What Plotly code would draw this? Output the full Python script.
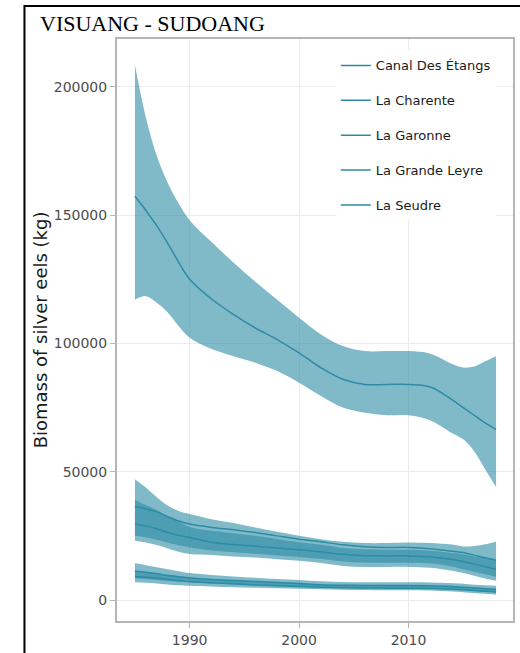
import plotly.graph_objects as go

# Years at which each smoothed estimate is given
YEARS = [1985, 1986, 1987, 1988, 1989, 1990, 1992, 1994, 1996, 1998, 2000,
         2002, 2004, 2006, 2008, 2010, 2012, 2014, 2015, 2016, 2017, 2018]

# Biomass of silver eels (kg): mean with lower / upper bounds per river
CANAL_MEAN = [11200, 10800, 10200, 9600, 9100, 8600, 8000, 7600, 7200, 6800, 6400,
              6000, 5800, 5700, 5700, 5700, 5600, 5300, 5000, 4700, 4400, 4100]
CANAL_LOW = [8500, 8200, 7800, 7400, 7100, 6800, 6400, 6100, 5800, 5500, 5200,
             4900, 4700, 4600, 4600, 4600, 4500, 4200, 3900, 3600, 3300, 3000]
CANAL_HIGH = [14300, 13600, 12800, 12000, 11200, 10500, 9800, 9200, 8700, 8200, 7800,
              7300, 7000, 6900, 6900, 6900, 6800, 6500, 6300, 6000, 5800, 5600]

CHARENTE_MEAN = [36400, 35500, 34400, 32500, 30800, 29600, 28300, 27400, 26300, 25000, 23700,
                 22700, 21500, 20800, 20500, 20500, 20000, 19000, 18500, 17500, 16500, 15500]
CHARENTE_LOW = [23100, 22400, 21400, 20100, 18800, 17900, 17500, 17000, 16600, 15900, 15300,
                14400, 13300, 12900, 12900, 12900, 12600, 11400, 10500, 9500, 8400, 7500]
CHARENTE_HIGH = [47100, 43800, 40000, 36700, 34700, 33500, 31500, 30000, 28300, 26600, 25000,
                 23700, 22700, 22200, 22200, 22400, 22200, 21600, 20900, 21100, 21700, 22700]

GARONNE_MEAN = [157300, 151800, 145800, 139000, 131600, 125000, 117300, 111300, 106000, 101500, 96300,
                90500, 86000, 84000, 84000, 84000, 83000, 78000, 75000, 72000, 69000, 66500]
GARONNE_LOW = [117000, 118400, 115800, 112000, 106700, 102200, 97800, 95000, 92500, 89200, 84700,
               79500, 75000, 73000, 72000, 72000, 70000, 65000, 62600, 58000, 51000, 44000]
GARONNE_HIGH = [208500, 188000, 173000, 162500, 154500, 148000, 139500, 131500, 124000, 117000, 110000,
                103500, 99000, 97000, 97000, 97000, 96000, 92000, 90600, 91000, 93000, 95000]

LEYRE_MEAN = [9200, 8900, 8500, 8000, 7600, 7200, 6700, 6300, 5900, 5600, 5300,
              5000, 4800, 4700, 4600, 4600, 4500, 4200, 4000, 3700, 3400, 3100]
LEYRE_LOW = [6900, 6700, 6400, 6100, 5800, 5600, 5300, 5000, 4800, 4600, 4400,
             4200, 4000, 3900, 3800, 3800, 3700, 3300, 3000, 2700, 2400, 2100]
LEYRE_HIGH = [11500, 11000, 10400, 9800, 9300, 8800, 8200, 7700, 7200, 6800, 6400,
              6000, 5800, 5700, 5600, 5600, 5500, 5200, 5000, 4800, 4600, 4400]

SEUDRE_MEAN = [29600, 28800, 27800, 26300, 25200, 24400, 22500, 21600, 21000, 20300, 19600,
               18800, 17800, 17300, 17200, 17200, 16800, 15800, 15000, 14000, 13000, 12000]
SEUDRE_LOW = [25000, 24400, 23500, 22300, 21300, 20500, 19300, 18600, 18000, 17400, 16800,
              16000, 15000, 14600, 14500, 14500, 14200, 13000, 12000, 11000, 10000, 9000]
SEUDRE_HIGH = [39000, 37000, 35000, 32500, 30500, 28500, 27000, 26000, 25000, 23800, 22500,
               21500, 20300, 19800, 19600, 19600, 19200, 18300, 17800, 17000, 16500, 16000]

RIVERS = ["Canal Des Étangs", "La Charente", "La Garonne", "La Grande Leyre", "La Seudre"]
SERIES = [
    (CANAL_MEAN, CANAL_LOW, CANAL_HIGH),
    (CHARENTE_MEAN, CHARENTE_LOW, CHARENTE_HIGH),
    (GARONNE_MEAN, GARONNE_LOW, GARONNE_HIGH),
    (LEYRE_MEAN, LEYRE_LOW, LEYRE_HIGH),
    (SEUDRE_MEAN, SEUDRE_LOW, SEUDRE_HIGH),
]

LINE_COLOR = "rgb(43,140,165)"
FILL_COLOR = "rgba(43,140,165,0.6)"
TICK_FONT = dict(family="DejaVu Sans", size=14, color="#4d4d4d")

fig = go.Figure()
for name, (mean, low, high) in zip(RIVERS, SERIES):
    fig.add_trace(go.Scatter(
        x=YEARS, y=low, mode="lines", line=dict(width=0, shape="spline", color=LINE_COLOR),
        showlegend=False, legendgroup=name, hoverinfo="skip"))
    fig.add_trace(go.Scatter(
        x=YEARS, y=high, mode="lines", line=dict(width=0, shape="spline", color=LINE_COLOR),
        fill="tonexty", fillcolor=FILL_COLOR,
        showlegend=False, legendgroup=name, hoverinfo="skip"))
    fig.add_trace(go.Scatter(
        x=YEARS, y=mean, mode="lines", name=name, legendgroup=name,
        line=dict(width=1.5, shape="spline", color=LINE_COLOR)))

fig.update_layout(
    width=520, height=653,
    margin=dict(l=117, r=5, t=39, b=31),
    paper_bgcolor="white", plot_bgcolor="white",
    showlegend=True,
    legend=dict(
        x=0.5526, y=0.9803, xanchor="left", yanchor="top",
        bgcolor="white", borderwidth=0,
        font=dict(family="DejaVu Sans", size=13, color="#1a1a1a"),
        traceorder="grouped", tracegroupgap=15,
    ),
    xaxis=dict(
        range=[1983.36, 2019.55], tickvals=[1990, 2000, 2010],
        showgrid=True, gridcolor="#ebebeb", gridwidth=1, zeroline=False,
        showline=True, mirror=True, linecolor="#b5b5b5", linewidth=2,
        ticks="outside", ticklen=5, tickcolor="#b5b5b5", tickfont=TICK_FONT,
    ),
    yaxis=dict(
        range=[-8170, 218600], tickvals=[0, 50000, 100000, 150000, 200000],
        tickformat="d",
        showgrid=True, gridcolor="#ebebeb", gridwidth=1, zeroline=False,
        showline=True, mirror=True, linecolor="#b5b5b5", linewidth=2,
        ticks="outside", ticklen=5, tickcolor="#b5b5b5", tickfont=TICK_FONT,
    ),
    annotations=[
        dict(text="Biomass of silver eels (kg)", textangle=-90,
             xref="paper", yref="paper", x=-0.1935, y=0.5,
             xanchor="center", yanchor="middle", showarrow=False,
             font=dict(family="DejaVu Sans", size=18, color="#1a1a1a")),
        dict(text="VISUANG - SUDOANG",
             xref="paper", yref="paper", x=-0.199, y=1.0274,
             xanchor="left", yanchor="middle", showarrow=False,
             font=dict(family="Liberation Serif", size=22, color="black")),
    ],
    shapes=[
        dict(type="rect", xref="paper", yref="paper",
             x0=-0.2337, x1=1.03, y0=-0.08, y1=1.0566,
             line=dict(color="black", width=2), fillcolor="rgba(0,0,0,0)",
             layer="above"),
    ],
)

fig.write_html("out.html")
